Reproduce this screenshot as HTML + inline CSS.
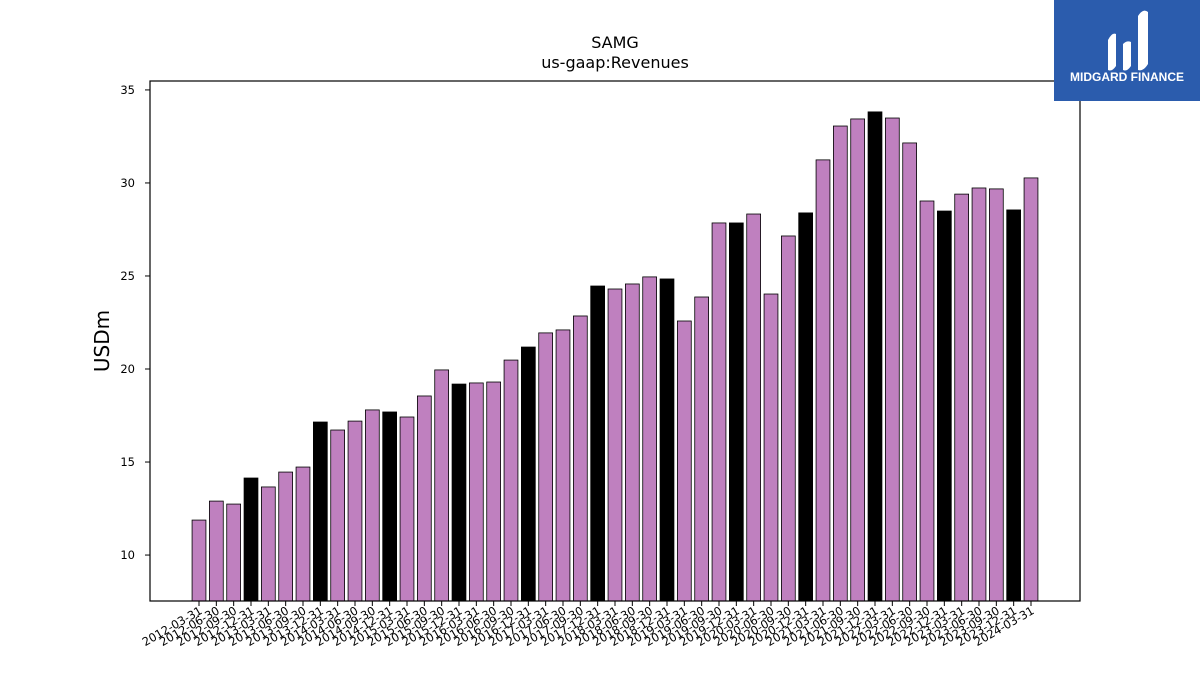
<!DOCTYPE html>
<html><head><meta charset="utf-8"><style>
body{margin:0;background:#fff;width:1200px;height:675px;overflow:hidden;font-family:"Liberation Sans","DejaVu Sans",sans-serif}
</style></head><body>
<svg id="chart" width="1200" height="675" xmlns="http://www.w3.org/2000/svg">
<rect width="1200" height="675" fill="#fff"/>
<text x="615" y="48" text-anchor="middle" font-size="16" font-family="DejaVu Sans, sans-serif">SAMG</text>
<text x="615" y="68" text-anchor="middle" font-size="16" font-family="DejaVu Sans, sans-serif">us-gaap:Revenues</text>
<text transform="translate(109,341) rotate(-90)" text-anchor="middle" font-size="20" font-family="DejaVu Sans, sans-serif">USDm</text>
<g id="bars"></g><g id="yticks"></g><g id="xticks"></g>
<rect x="150" y="81" width="930" height="520" fill="none" stroke="#000" stroke-width="1.2"/>
<g>
<rect x="1054" y="0" width="146" height="101" fill="#2b5cad"/>
<path d="M1108 70 L1108 40 Q1112 32 1116 34 L1116 66 Q1112 72 1108 70Z M1123 70 L1123 44 Q1127 40 1131 42 L1131 66 Q1127 72 1123 70Z M1138 70 L1138 16 Q1143 8 1148 12 L1148 64 Q1143 72 1138 70Z" fill="#fff"/>
<text x="1127" y="81" text-anchor="middle" font-size="12" font-weight="bold" fill="#fff">MIDGARD FINANCE</text>
</g>
</svg>
<script>
const categories=["2012-03-31","2012-06-30","2012-09-30","2012-12-31","2013-03-31","2013-06-30","2013-09-30","2013-12-31","2014-03-31","2014-06-30","2014-09-30","2014-12-31","2015-03-31","2015-06-30","2015-09-30","2015-12-31","2016-03-31","2016-06-30","2016-09-30","2016-12-31","2017-03-31","2017-06-30","2017-09-30","2017-12-31","2018-03-31","2018-06-30","2018-09-30","2018-12-31","2019-03-31","2019-06-30","2019-09-30","2019-12-31","2020-03-31","2020-06-30","2020-09-30","2020-12-31","2021-03-31","2021-06-30","2021-09-30","2021-12-31","2022-03-31","2022-06-30","2022-09-30","2022-12-31","2023-03-31","2023-06-30","2023-09-30","2023-12-31","2024-03-31"];
const values=[11.88,12.9,12.74,14.14,13.66,14.46,14.73,17.15,16.72,17.2,17.8,17.69,17.42,18.55,19.95,19.19,19.25,19.3,20.48,21.18,21.94,22.1,22.85,24.46,24.3,24.57,24.95,24.84,22.58,23.87,27.85,27.85,28.33,24.03,27.15,28.39,31.24,33.06,33.44,33.82,33.49,32.15,29.03,28.49,29.4,29.73,29.68,28.55,30.27];
const yTicks=[10,15,20,25,30,35];
const NS="http://www.w3.org/2000/svg";
const x0=199,dx=(1031-199)/(categories.length-1),bw=dx*0.8;
const yMin=7.53,yMax=35.48,plotTop=81,plotBot=601;
function yS(v){return plotBot-(v-yMin)/(yMax-yMin)*(plotBot-plotTop);}
function xp(i){return x0+i*dx;}
function mk(t,a,p){const e=document.createElementNS(NS,t);for(const k in a)e.setAttribute(k,a[k]);p.appendChild(e);return e;}
const gb=document.getElementById('bars'),gy=document.getElementById('yticks'),gx=document.getElementById('xticks');
values.forEach((v,i)=>{
 const annual=categories[i].endsWith('12-31');
 const r=mk('rect',{x:xp(i)-bw/2,y:yS(v),width:bw,height:plotBot-yS(v),fill:annual?'#000':'#bf80bf',stroke:'#000','stroke-width':0.8},gb);
 
 
 const tk=mk('line',{x1:xp(i),x2:xp(i),y1:plotBot,y2:plotBot+5,stroke:'#000'},gx);
 
 
 const t=mk('text',{x:xp(i)+4,y:plotBot+12,'text-anchor':'end','font-size':11.5,'font-family':'DejaVu Sans, sans-serif',transform:`rotate(-30 ${xp(i)+4} ${plotBot+12})`},gx);
 t.textContent=categories[i];
 
 
});
yTicks.forEach(v=>{
 const l=mk('line',{x1:145,x2:150,y1:yS(v),y2:yS(v),stroke:'#000'},gy);
 
 
 const t=mk('text',{x:135,y:yS(v)+4,'text-anchor':'end','font-size':11.5,'font-family':'DejaVu Sans, sans-serif'},gy);
 t.textContent=v;
 
 
});
</script>
</body></html>
